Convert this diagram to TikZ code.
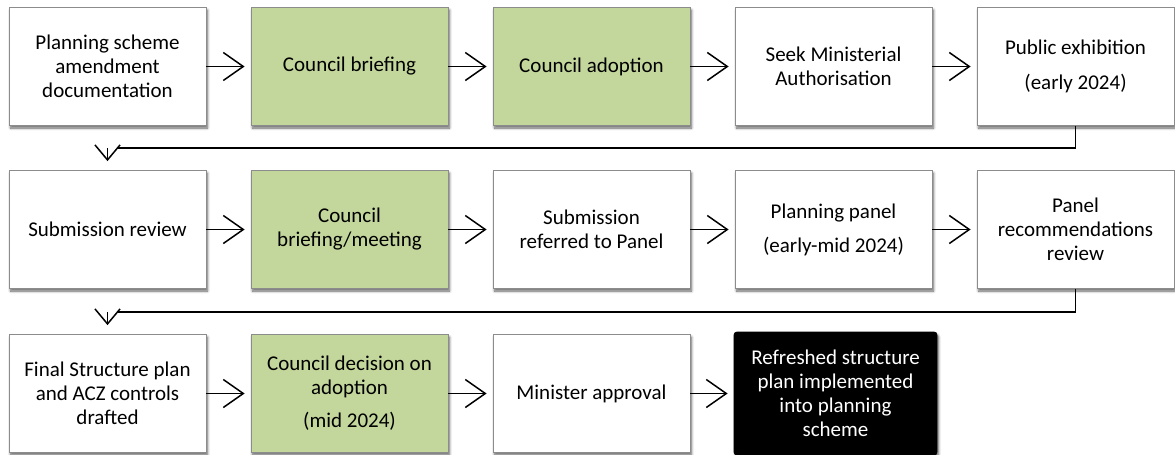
\documentclass[tikz,border=0pt]{standalone}
\usepackage{fontspec}
\setmainfont{Carlito}
\usetikzlibrary{arrows.meta,shadows.blur}
\definecolor{councilgreen}{RGB}{195,214,155}
\definecolor{boxedge}{RGB}{140,140,140}
\begin{document}
\begin{tikzpicture}[x=1pt,y=-1pt,
  stage/.style={draw=boxedge, line width=0.8pt, fill=white,
    minimum width=197pt, minimum height=118pt, inner sep=0pt,
    align=center, font=\fontsize{21}{24}\selectfont,
    blur shadow={shadow xshift=1.5pt, shadow yshift=-2.5pt,
      shadow blur steps=6, shadow opacity=60, shadow blur radius=2.5pt}},
  council/.style={stage, fill=councilgreen},
  outcome/.style={stage, draw=black, fill=black, text=white,
    rounded corners=3pt, minimum width=203pt, minimum height=123pt},
  flow/.style={line width=1.5pt, -{Straight Barb[length=20pt,width=28pt]},
    shorten >=6pt},
  wrap/.style={line width=1.5pt, -{Straight Barb[length=15pt,width=25pt]},
    shorten >=9pt},
  link/.style={line width=1.5pt}
]
\useasboundingbox (0,0) rectangle (1175,455);

% first row
\node[stage]   (psa) at (107.5,66.5) {Planning scheme\\amendment\\documentation};
\node[council] (cb)  at (349.5,66.5) {Council briefing};
\node[council] (ca)  at (591.5,66.5) {Council adoption};
\node[stage]   (sma) at (833.5,66.5) {Seek Ministerial\\Authorisation};
\node[stage]   (pe)  at (1075.5,66.5) {Public exhibition\\[11pt](early 2024)};

% second row
\node[stage]   (sr)  at (107.5,229.5) {Submission review};
\node[council] (cbm) at (349.5,229.5) {Council\\briefing/meeting};
\node[stage]   (srp) at (591.5,229.5) {Submission\\referred to Panel};
\node[stage]   (pp)  at (833.5,229.5) {Planning panel\\[10pt](early-mid 2024)};
\node[stage]   (prr) at (1075.5,229.5) {Panel\\recommendations\\review};

% third row
\node[stage]   (fsp) at (107.5,393.5) {Final Structure plan\\and ACZ controls\\drafted};
\node[council] (cdo) at (349.5,393.5) {Council decision on\\adoption\\[9pt](mid 2024)};
\node[stage]   (ma)  at (591.5,393.5) {Minister approval};
\node[outcome] (rsp) at (835.5,393.5) {Refreshed structure\\plan implemented\\into planning\\scheme};

% arrows along each row
\draw[flow] (psa) -- (cb);
\draw[flow] (cb) -- (ca);
\draw[flow] (ca) -- (sma);
\draw[flow] (sma) -- (pe);
\draw[flow] (sr) -- (cbm);
\draw[flow] (cbm) -- (srp);
\draw[flow] (srp) -- (pp);
\draw[flow] (pp) -- (prr);
\draw[flow] (fsp) -- (cdo);
\draw[flow] (cdo) -- (ma);
\draw[flow] (ma) -- (rsp);

% wrap-around connectors between rows: the run ends at the barb's arm
\coordinate (join1) at (118,148);
\coordinate (drop1) at (107.5,148);
\coordinate (join2) at (118,312);
\coordinate (drop2) at (107.5,312);
\draw[link] (pe.south) |- (join1);
\draw[wrap] (drop1) -- (sr.north);
\draw[link] (prr.south) |- (join2);
\draw[wrap] (drop2) -- (fsp.north);
\end{tikzpicture}
\end{document}
